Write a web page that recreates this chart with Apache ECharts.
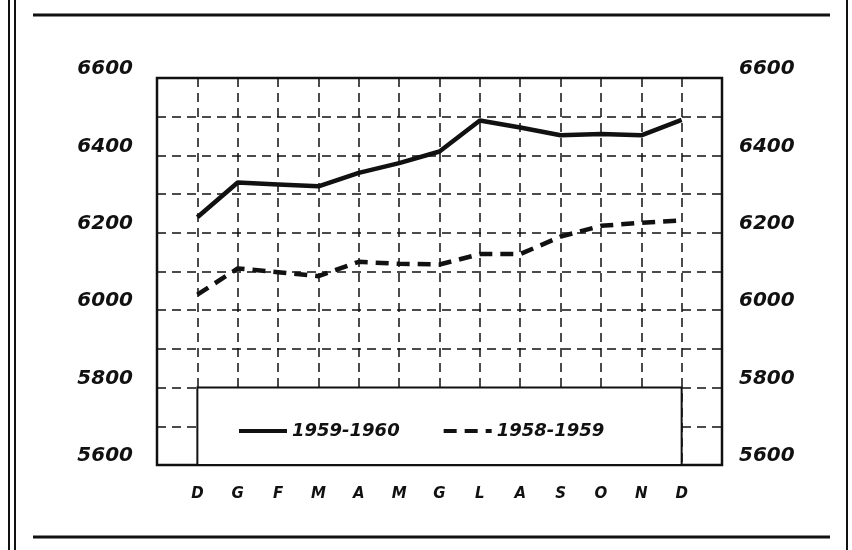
<!DOCTYPE html>
<html>
<head>
<meta charset="utf-8">
<script src="https://cdn.jsdelivr.net/npm/echarts@6/dist/echarts.min.js"></script>
<style>html,body{margin:0;padding:0;background:#fff}#c{width:852px;height:550px}</style>
</head>
<body>
<div id="c"></div>
<script>
const months = ['D','G','F','M','A','M','G','L','A','S','O','N','D'];
const series1959_1960 = [6240, 6330, 6325, 6320, 6355, 6380, 6410, 6490, 6472, 6452, 6455, 6452, 6492];
const series1958_1959 = [6040, 6108, 6098, 6088, 6125, 6120, 6118, 6145, 6145, 6190, 6218, 6226, 6232];
const yTickLabels = ['5600','5800','6000','6200','6400','6600'];
const legendNames = ['1959-1960','1958-1959'];

const ink = '#111';
const font = 'DejaVu Sans';
const toXY = arr => arr.map((v, i) => [i + 1, v]);
const yFmt = v => { const s = String(v); return yTickLabels.indexOf(s) >= 0 ? s : ''; };
const splitDash = { show: true, lineStyle: { color: ink, width: 1.5, type: [9, 6] } };

const chart = echarts.init(document.getElementById('c'), null, { renderer: 'canvas' });
chart.setOption({
  animation: false,
  backgroundColor: '#fff',
  grid: { left: 157, right: 130, top: 78, bottom: 85, show: true, borderColor: ink, borderWidth: 2.5, backgroundColor: 'transparent' },
  legend: {
    data: legendNames,
    left: 232, top: 417,
    itemWidth: 48, itemHeight: 14, itemGap: 42,
    itemStyle: { opacity: 0, borderWidth: 0 },
    lineStyle: { width: 4 },
    textStyle: { fontFamily: font, fontStyle: 'italic', fontWeight: 'bold', fontSize: 18, color: ink }
  },
  xAxis: {
    type: 'value', min: 0, max: 14, interval: 1,
    axisLine: { show: false }, axisTick: { show: false },
    splitLine: splitDash,
    axisLabel: {
      margin: 22,
      formatter: v => months[v - 1] || '',
      fontFamily: font, fontStyle: 'italic', fontWeight: 'bold', fontSize: 15, color: ink
    }
  },
  yAxis: [
    {
      type: 'value', min: 5600, max: 6600, interval: 100, position: 'left',
      axisLine: { show: false }, axisTick: { show: false },
      splitLine: splitDash,
      axisLabel: {
        margin: 24, formatter: yFmt, verticalAlign: 'bottom', lineHeight: 18,
        fontFamily: font, fontStyle: 'italic', fontWeight: 'bold', fontSize: 20, color: ink
      }
    },
    {
      type: 'value', min: 5600, max: 6600, interval: 100, position: 'right',
      axisLine: { show: false }, axisTick: { show: false },
      splitLine: { show: false },
      axisLabel: {
        margin: 17, formatter: yFmt, verticalAlign: 'bottom', lineHeight: 18,
        fontFamily: font, fontStyle: 'italic', fontWeight: 'bold', fontSize: 20, color: ink
      }
    }
  ],
  series: [
    {
      name: legendNames[0], type: 'line', symbol: 'none',
      data: toXY(series1959_1960),
      lineStyle: { color: ink, width: 4.5, type: 'solid' },
      itemStyle: { color: ink },
      z: 3,
      markArea: {
        silent: true,
        itemStyle: { color: '#fff', borderColor: ink, borderWidth: 2 },
        data: [[{ xAxis: 1, yAxis: 5600 }, { xAxis: 13, yAxis: 5800 }]]
      }
    },
    {
      name: legendNames[1], type: 'line', symbol: 'none',
      data: toXY(series1958_1959),
      lineStyle: { color: ink, width: 4.5, type: [13, 8] },
      itemStyle: { color: ink },
      z: 3
    }
  ],
  graphic: [
    { type: 'line', shape: { x1: 33, y1: 15, x2: 830, y2: 15 }, style: { stroke: ink, lineWidth: 3 } },
    { type: 'line', shape: { x1: 33, y1: 537, x2: 830, y2: 537 }, style: { stroke: ink, lineWidth: 3 } },
    { type: 'line', shape: { x1: 9, y1: 0, x2: 9, y2: 550 }, style: { stroke: ink, lineWidth: 2 } },
    { type: 'line', shape: { x1: 15, y1: 0, x2: 15, y2: 550 }, style: { stroke: ink, lineWidth: 2 } },
    { type: 'line', shape: { x1: 847, y1: 0, x2: 847, y2: 550 }, style: { stroke: ink, lineWidth: 2 } }
  ]
});
</script>
</body>
</html>
